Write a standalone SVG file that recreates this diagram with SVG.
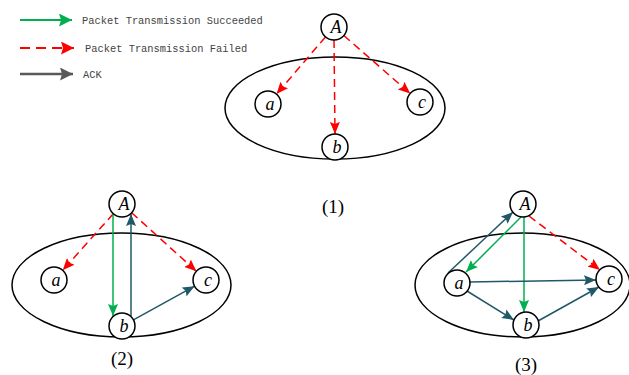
<svg xmlns="http://www.w3.org/2000/svg" width="629" height="375" viewBox="0 0 629 375">
<defs>
<marker id="mg" markerUnits="userSpaceOnUse" markerWidth="13" markerHeight="10" refX="12" refY="5" orient="auto"><path d="M0,0 L12,5 L0,10 L2,5 z" fill="#00b050"/></marker>
<marker id="mr" markerUnits="userSpaceOnUse" markerWidth="13" markerHeight="10" refX="12" refY="5" orient="auto"><path d="M0,0 L12,5 L0,10 L2,5 z" fill="#ff0000"/></marker>
<marker id="mt" markerUnits="userSpaceOnUse" markerWidth="13" markerHeight="10" refX="12" refY="5" orient="auto"><path d="M0,0 L12,5 L0,10 L2,5 z" fill="#215868"/></marker>
<marker id="lg" markerUnits="userSpaceOnUse" markerWidth="14" markerHeight="13" refX="13" refY="6.5" orient="auto"><path d="M0,0 L13,6.5 L0,13 L2,6.5 z" fill="#00b050"/></marker>
<marker id="lr" markerUnits="userSpaceOnUse" markerWidth="14" markerHeight="13" refX="13" refY="6.5" orient="auto"><path d="M0,0 L13,6.5 L0,13 L2,6.5 z" fill="#ff0000"/></marker>
<marker id="lk" markerUnits="userSpaceOnUse" markerWidth="14" markerHeight="13" refX="13" refY="6.5" orient="auto"><path d="M0,0 L13,6.5 L0,13 L2,6.5 z" fill="#595959"/></marker>
</defs>
<style>
.node circle{fill:#fff;stroke:#000;stroke-width:1.5}
.node text{font-family:"Liberation Serif",serif;font-style:italic;font-size:18px;text-anchor:middle;fill:#000}
.ell{fill:none;stroke:#000;stroke-width:1.5}
.g{stroke:#00b050;stroke-width:1.5;fill:none;marker-end:url(#mg)}
.r{stroke:#ff0000;stroke-width:1.5;fill:none;stroke-dasharray:8,5;marker-end:url(#mr)}
.t{stroke:#215868;stroke-width:1.5;fill:none;marker-end:url(#mt)}
.leg{font-family:"Liberation Mono",monospace;font-size:10.4px;fill:#444}
.cap{font-family:"Liberation Serif",serif;font-size:19px;text-anchor:middle;fill:#000}
</style>
<g id="legend">
<line x1="20" y1="20" x2="72" y2="20" stroke="#00b050" stroke-width="2.2" marker-end="url(#lg)"/>
<text class="leg" x="82" y="24">Packet Transmission Succeeded</text>
<line x1="20" y1="48" x2="74" y2="48" stroke="#ff0000" stroke-width="2.2" stroke-dasharray="10,6" marker-end="url(#lr)"/>
<text class="leg" x="85" y="52">Packet Transmission Failed</text>
<line x1="20" y1="74" x2="73" y2="74" stroke="#595959" stroke-width="2.5" marker-end="url(#lk)"/>
<text class="leg" x="83" y="78">ACK</text>
</g>
<g id="ellipses">
<ellipse class="ell" cx="335" cy="108" rx="110" ry="51"/>
<ellipse class="ell" cx="121.5" cy="285" rx="109.5" ry="52"/>
<ellipse class="ell" cx="522.5" cy="285" rx="107.5" ry="52"/>
</g>
<g id="connectors">
<line class="r" x1="325.5" y1="36.9" x2="276.5" y2="94.1"/>
<line class="r" x1="343.8" y1="35.5" x2="410.2" y2="93.5"/>
<line class="r" x1="334" y1="40" x2="335" y2="134"/>
<line class="r" x1="113.3" y1="213.7" x2="62.7" y2="270.3"/>
<line class="r" x1="131.6" y1="212.7" x2="196.4" y2="271.3"/>
<line class="g" x1="113" y1="214" x2="113" y2="316"/>
<line class="t" x1="131" y1="316" x2="131" y2="214"/>
<line class="t" x1="133.4" y1="319.8" x2="194.6" y2="286.2"/>
<line class="t" x1="448" y1="273" x2="513" y2="212"/>
<line class="g" x1="521" y1="217" x2="466" y2="272"/>
<line class="g" x1="524" y1="217" x2="524" y2="312"/>
<line class="r" x1="529" y1="216" x2="600" y2="270"/>
<line class="t" x1="470" y1="282" x2="596" y2="280"/>
<line class="t" x1="467" y1="291" x2="514" y2="320"/>
<line class="t" x1="538" y1="321" x2="599" y2="287"/>
</g>
<g id="n1A" class="node"><circle cx="334" cy="27" r="13"/><text x="336" y="33">A</text></g>
<g id="n1a" class="node"><circle cx="268" cy="104" r="13"/><text x="270" y="110">a</text></g>
<g id="n1b" class="node"><circle cx="335" cy="147" r="13"/><text x="337" y="153">b</text></g>
<g id="n1c" class="node"><circle cx="420" cy="102" r="13"/><text x="422" y="108">c</text></g>
<g id="n2A" class="node"><circle cx="122" cy="204" r="13"/><text x="124" y="210">A</text></g>
<g id="n2a" class="node"><circle cx="54" cy="280" r="13"/><text x="56" y="286">a</text></g>
<g id="n2b" class="node"><circle cx="122" cy="326" r="13"/><text x="124" y="332">b</text></g>
<g id="n2c" class="node"><circle cx="206" cy="280" r="13"/><text x="208" y="286">c</text></g>
<g id="n3A" class="node"><circle cx="523" cy="204" r="13"/><text x="525" y="210">A</text></g>
<g id="n3a" class="node"><circle cx="457" cy="283" r="13"/><text x="459" y="289">a</text></g>
<g id="n3b" class="node"><circle cx="526" cy="325" r="13"/><text x="528" y="331">b</text></g>
<g id="n3c" class="node"><circle cx="609" cy="279" r="13"/><text x="611" y="285">c</text></g>
<g id="captions">
<text class="cap" x="333" y="213">(1)</text>
<text class="cap" x="122" y="365">(2)</text>
<text class="cap" x="526" y="371">(3)</text>
</g>
</svg>
